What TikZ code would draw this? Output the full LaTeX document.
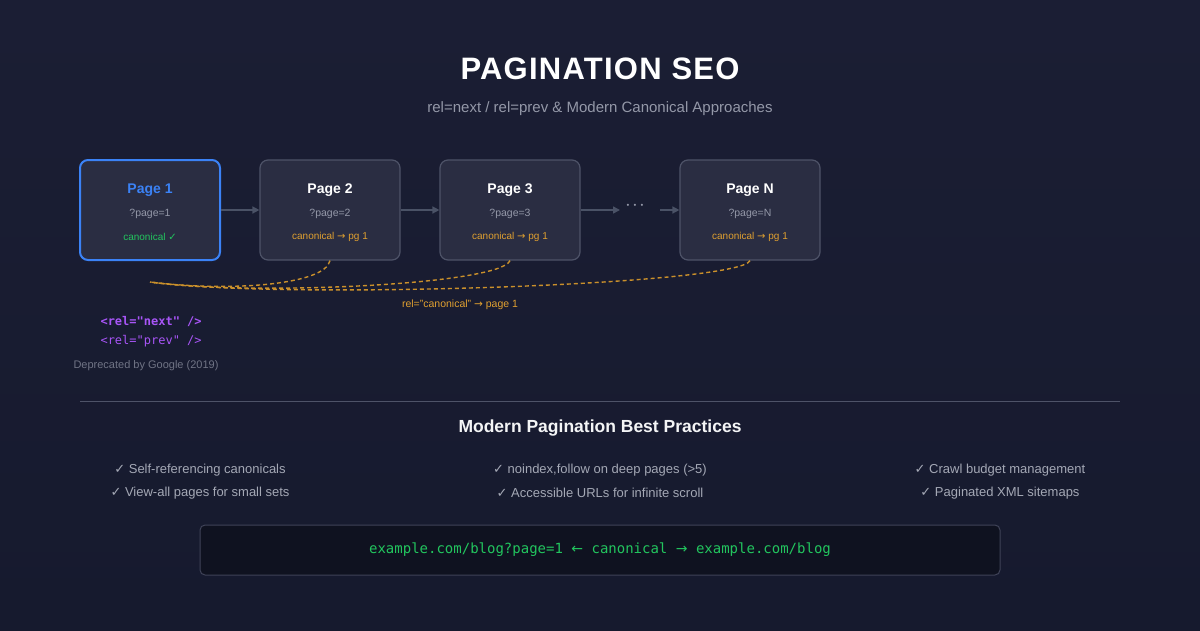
\documentclass[tikz,border=0pt]{standalone}
\usepackage{fontspec}
\setmainfont{Liberation Sans}
\newfontfamily\titlef[LetterSpace=4]{Liberation Sans}
\newfontfamily\djsym{DejaVu Sans}
\newfontfamily\monof{DejaVu Sans Mono}
\usetikzlibrary{arrows.meta}
\definecolor{bgA}{HTML}{1B1E34}
\definecolor{bgB}{HTML}{161A2E}
\definecolor{boxf}{HTML}{2A2D42}
\definecolor{boxd}{HTML}{4E5368}
\definecolor{blu}{HTML}{3B82F6}
\definecolor{gry}{HTML}{9498A8}
\definecolor{org}{HTML}{E0A030}
\definecolor{grn}{HTML}{22C55E}
\definecolor{pur}{HTML}{A855F7}
\definecolor{arr}{HTML}{4A5266}
\tikzset{
 pg/.style={draw=boxd,line width=1.2pt,fill=boxf,rounded corners=8pt,minimum width=140pt,minimum height=100pt},
 conn/.style={draw=arr,line width=1.5pt,-{Triangle[length=7pt,width=7pt]}},
 cdash/.style={draw=org!90!black,line width=1.4pt,dash pattern=on 4pt off 3pt},
 ttl/.style={text=white,font=\bfseries\fontsize{14}{16}\selectfont},
 sub/.style={text=gry,font=\fontsize{10.5}{12}\selectfont},
 can/.style={text=org,font=\fontsize{10}{12}\selectfont},
 bul/.style={text=gry!85!white,font=\fontsize{13}{15}\selectfont}
}
\begin{document}
\begin{tikzpicture}[x=1pt,y=-1pt]
\shade[top color=bgA,bottom color=bgB] (0,0) rectangle (1200,630);
\useasboundingbox (0,0) rectangle (1200,630);
\node[text=white,font=\titlef\bfseries\fontsize{31}{36}\selectfont] (title) at (600,69) {PAGINATION SEO};
\node[text=gry,font=\fontsize{15}{18}\selectfont] (subt) at (600,109) {rel=next / rel=prev \& Modern Canonical Approaches};
\node[pg,draw=blu,line width=2pt] (p1) at (150,210) {};
\node[pg] (p2) at (330,210) {};
\node[pg] (p3) at (510,210) {};
\node[pg] (pn) at (750,210) {};
\foreach \n/\x/\t/\q in {p2/330/Page 2/2,p3/510/Page 3/3,pn/750/Page N/N}{
 \node[ttl] (\n t) at (\x,190) {\t};
}
\foreach \n/\x/\q in {p1/150/1,p2/330/2,p3/510/3,pn/750/N}{
 \node[sub] (\n q) at (\x,214) {?page=\q};
}
\node[ttl,text=blu] (p1t) at (150,190) {Page 1};
\node[text=grn,font=\fontsize{10}{12}\selectfont] (c1) at (150,237) {canonical {\djsym ✓}};
\foreach \n in {p2,p3,pn}{\node[can] (\n c) at ([yshift=-27pt]\n.center) {canonical {\djsym →} pg 1};}
\node[text=gry,font=\bfseries\fontsize{20}{20}\selectfont] (dots) at (635,206) {$\cdot\!\cdot\!\cdot$};
\draw[conn] (p1.east) -- (p2.west);
\draw[conn] (p2.east) -- (p3.west);
\coordinate (d1) at (620,210);
\coordinate (d2) at (660,210);
\draw[conn] (p3.east) -- (d1);
\draw[conn] (d2) -- (pn.west);
\coordinate (tgt) at (150,282);
\draw[cdash] (p2.south) .. controls (325,285) and (230,292) .. (tgt);
\draw[cdash] (p3.south) .. controls (500,285) and (250,296) .. (tgt);
\draw[cdash] (pn.south) .. controls (740,285) and (280,300) .. (tgt);
\node[can,font=\fontsize{10.5}{12}\selectfont] (cl) at (460,305) {rel="canonical" {\djsym →} page 1};
\node[text=pur,font=\monof\bfseries\fontsize{12}{14}\selectfont,anchor=west] (nx) at (97,321) {<rel="next" />};
\node[text=pur,font=\monof\fontsize{12}{14}\selectfont,anchor=west] (pv) at (97,341) {<rel="prev" />};
\node[text=gry!70!bgA,font=\fontsize{11}{12}\selectfont,anchor=west] (dep) at (70,366) {Deprecated by Google (2019)};
\draw[boxd,line width=1pt] (80,401) -- (1120,401);
\node[text=white!90!gry,font=\bfseries\fontsize{17.5}{20}\selectfont] (h2) at (600,428) {Modern Pagination Best Practices};
\node[bul] (b1) at (200,470) {{\djsym ✓} Self-referencing canonicals};
\node[bul] (b2) at (200,493) {{\djsym ✓} View-all pages for small sets};
\node[bul] (b3) at (600,470) {{\djsym ✓} noindex,follow on deep pages (>5)};
\node[bul] (b4) at (600,493) {{\djsym ✓} Accessible URLs for infinite scroll};
\node[bul] (b5) at (1000,470) {{\djsym ✓} Crawl budget management};
\node[bul] (b6) at (1000,493) {{\djsym ✓} Paginated XML sitemaps};
\node[draw=boxd!70!bgA,line width=1pt,fill=black!30!bgB,rounded corners=5pt,minimum width=800pt,minimum height=50pt,text=grn,font=\monof\fontsize{14}{16}\selectfont] (code) at (600,550) {example.com/blog?page=1 {\djsym ←} canonical {\djsym →} example.com/blog};
\end{tikzpicture}
\end{document}
